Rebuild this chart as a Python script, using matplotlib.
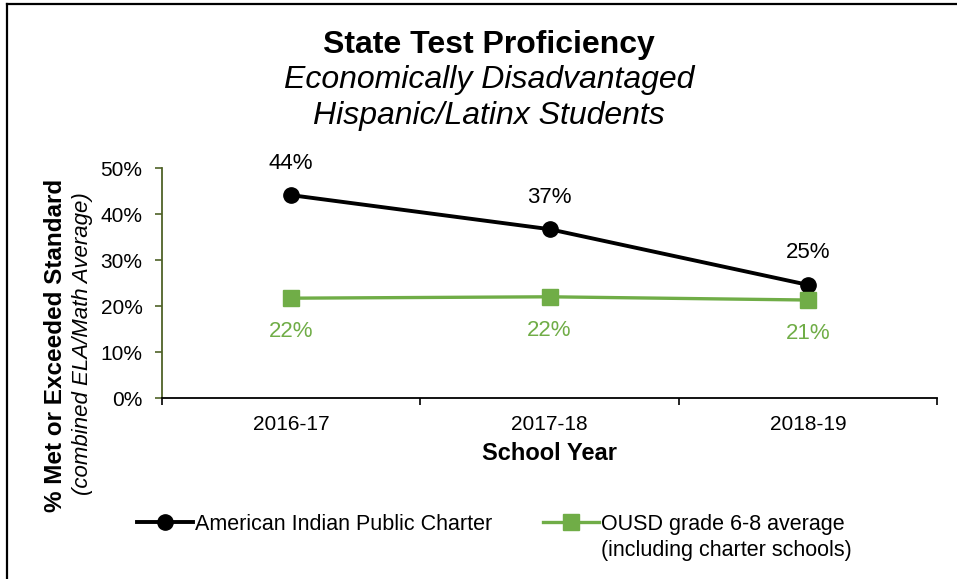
import matplotlib
matplotlib.use("Agg")
import matplotlib.pyplot as plt
from matplotlib.lines import Line2D

plt.rcParams['font.family'] = ['Liberation Sans', 'DejaVu Sans']

# Data
years = ['2016-17', '2017-18', '2018-19']
aip_charter = [44.1, 36.7, 24.6]
ousd_avg = [21.7, 22.0, 21.3]
aip_labels = ['44%', '37%', '25%']
ousd_labels = ['22%', '22%', '21%']
yticks = [0, 10, 20, 30, 40, 50]

black = '#000000'
green = '#70AD47'
olive = '#4F6228'

fig = plt.figure(figsize=(9.57, 5.79), dpi=100)
ax = fig.add_axes([162 / 957, 1 - 398 / 579, 775 / 957, 230 / 579])

x = list(range(len(years)))
ax.plot(x, aip_charter, color=black, lw=2.8, marker='o', ms=11,
        label='American Indian Public Charter', zorder=3)
ax.plot(x, ousd_avg, color=green, lw=2.4, marker='s', ms=11,
        label='OUSD grade 6-8 average', zorder=3)

# data labels
for xi, v, t in zip(x, aip_charter, aip_labels):
    ax.annotate(t, (xi, v), xytext=(0, 23), textcoords='offset points',
                ha='center', va='center', fontsize=16, color=black)
for xi, v, t in zip(x, ousd_avg, ousd_labels):
    ax.annotate(t, (xi, v), xytext=(0, -24), textcoords='offset points',
                ha='center', va='center', fontsize=16, color=green)

ax.set_xlim(-0.5, len(years) - 0.5)
ax.set_ylim(0, 50)
ax.set_yticks(yticks)
ax.set_yticklabels([f'{t}%' for t in yticks], fontsize=15)
ax.set_xticks(x)
ax.set_xticklabels(years, fontsize=15)
ax.tick_params(axis='x', length=0, pad=12)
ax.set_xticks([i - 0.5 for i in range(len(years) + 1)], minor=True)
ax.tick_params(axis='x', which='minor', length=5, width=1.2, color=black)
ax.tick_params(axis='y', length=5, width=1.2, color=olive, pad=9)

for s in ['top', 'right']:
    ax.spines[s].set_visible(False)
ax.spines['left'].set_color(olive)
ax.spines['left'].set_linewidth(1.3)
ax.spines['bottom'].set_color(black)
ax.spines['bottom'].set_linewidth(1.3)

ax.set_xlabel('School Year', fontsize=17, fontweight='bold', labelpad=6)

# titles
fig.text(489 / 957, 1 - 45 / 579, 'State Test Proficiency', ha='center', va='center',
         fontsize=23, fontweight='bold')
fig.text(489 / 957, 1 - 80 / 579, 'Economically Disadvantaged', ha='center', va='center',
         fontsize=23, style='italic')
fig.text(489 / 957, 1 - 116 / 579, 'Hispanic/Latinx Students', ha='center', va='center',
         fontsize=23, style='italic')

# y-axis titles
fig.text(56 / 957, 1 - 345 / 579, '% Met or Exceeded Standard', rotation=90,
         ha='center', va='center', fontsize=17.5, fontweight='bold')
fig.text(83 / 957, 1 - 344 / 579, '(combined ELA/Math Average)', rotation=90,
         ha='center', va='center', fontsize=16, style='italic')

leg = fig.legend(loc='upper left', bbox_to_anchor=(128 / 957, 1 - 505 / 579), ncol=2,
                 frameon=False, fontsize=15.5, handlelength=2.6, handletextpad=0.1,
                 columnspacing=2.35, borderaxespad=0)

# second line of the green series name, placed under its legend text
fig.canvas.draw()
bb = leg.get_texts()[1].get_window_extent()
fig.text(bb.x0 / fig.bbox.width, (bb.y0 - 26) / fig.bbox.height,
         '(including charter schools)', fontsize=15.5, ha='left', va='bottom')

# outer border
fig.add_artist(Line2D([7 / 957, 7 / 957], [0, 1 - 4 / 579], color='#000000', lw=1.6,
                      transform=fig.transFigure))
fig.add_artist(Line2D([7 / 957, 1], [1 - 4 / 579, 1 - 4 / 579], color='#000000', lw=1.6,
                      transform=fig.transFigure))

fig.savefig('out.png', dpi=100)
